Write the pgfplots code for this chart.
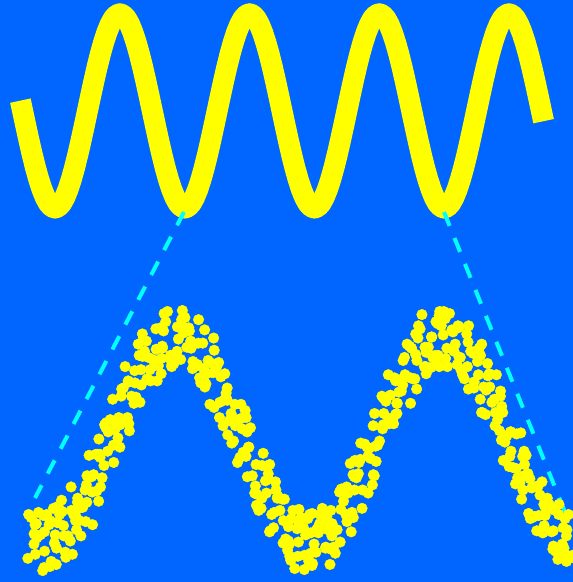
\documentclass[border=0pt]{standalone}
\usepackage{pgfplots}
\pgfplotsset{compat=1.18}
\definecolor{bgblue}{HTML}{0066FF}
\definecolor{yel}{HTML}{FFFF00}
\definecolor{cyn}{HTML}{00FFFF}
\begin{document}
\begin{tikzpicture}
\fill[bgblue] (0,0) rectangle (573bp,582bp);

% top: the whole signal, four periods
\begin{axis}[
    at={(0,352bp)}, anchor=south west,
    scale only axis, width=573bp, height=230bp,
    hide axis, clip=false, enlargelimits=false,
    xmin=-0.1743, xmax=4.2437, ymin=-1.2258, ymax=1.1417,
]
\addplot[yel, line width=21bp, line cap=rect, line join=round] coordinates {
(0.000,0) (0.025,-0.156) (0.050,-0.309) (0.075,-0.454) (0.100,-0.588) (0.125,-0.707) (0.150,-0.809) (0.175,-0.891) (0.200,-0.951) (0.225,-0.988)
(0.250,-1) (0.275,-0.988) (0.300,-0.951) (0.325,-0.891) (0.350,-0.809) (0.375,-0.707) (0.400,-0.588) (0.425,-0.454) (0.450,-0.309) (0.475,-0.156)
(0.500,0) (0.525,0.156) (0.550,0.309) (0.575,0.454) (0.600,0.588) (0.625,0.707) (0.650,0.809) (0.675,0.891) (0.700,0.951) (0.725,0.988)
(0.750,1) (0.775,0.988) (0.800,0.951) (0.825,0.891) (0.850,0.809) (0.875,0.707) (0.900,0.588) (0.925,0.454) (0.950,0.309) (0.975,0.156)
(1.000,0) (1.025,-0.156) (1.050,-0.309) (1.075,-0.454) (1.100,-0.588) (1.125,-0.707) (1.150,-0.809) (1.175,-0.891) (1.200,-0.951) (1.225,-0.988)
(1.250,-1) (1.275,-0.988) (1.300,-0.951) (1.325,-0.891) (1.350,-0.809) (1.375,-0.707) (1.400,-0.588) (1.425,-0.454) (1.450,-0.309) (1.475,-0.156)
(1.500,0) (1.525,0.156) (1.550,0.309) (1.575,0.454) (1.600,0.588) (1.625,0.707) (1.650,0.809) (1.675,0.891) (1.700,0.951) (1.725,0.988)
(1.750,1) (1.775,0.988) (1.800,0.951) (1.825,0.891) (1.850,0.809) (1.875,0.707) (1.900,0.588) (1.925,0.454) (1.950,0.309) (1.975,0.156)
(2.000,0) (2.025,-0.156) (2.050,-0.309) (2.075,-0.454) (2.100,-0.588) (2.125,-0.707) (2.150,-0.809) (2.175,-0.891) (2.200,-0.951) (2.225,-0.988)
(2.250,-1) (2.275,-0.988) (2.300,-0.951) (2.325,-0.891) (2.350,-0.809) (2.375,-0.707) (2.400,-0.588) (2.425,-0.454) (2.450,-0.309) (2.475,-0.156)
(2.500,0) (2.525,0.156) (2.550,0.309) (2.575,0.454) (2.600,0.588) (2.625,0.707) (2.650,0.809) (2.675,0.891) (2.700,0.951) (2.725,0.988)
(2.750,1) (2.775,0.988) (2.800,0.951) (2.825,0.891) (2.850,0.809) (2.875,0.707) (2.900,0.588) (2.925,0.454) (2.950,0.309) (2.975,0.156)
(3.000,0) (3.025,-0.156) (3.050,-0.309) (3.075,-0.454) (3.100,-0.588) (3.125,-0.707) (3.150,-0.809) (3.175,-0.891) (3.200,-0.951) (3.225,-0.988)
(3.250,-1) (3.275,-0.988) (3.300,-0.951) (3.325,-0.891) (3.350,-0.809) (3.375,-0.707) (3.400,-0.588) (3.425,-0.454) (3.450,-0.309) (3.475,-0.156)
(3.500,0) (3.525,0.156) (3.550,0.309) (3.575,0.454) (3.600,0.588) (3.625,0.707) (3.650,0.809) (3.675,0.891) (3.700,0.951) (3.725,0.988)
(3.750,1) (3.775,0.988) (3.800,0.951) (3.825,0.891) (3.850,0.809) (3.875,0.707) (3.900,0.588) (3.925,0.454) (3.950,0.309) (3.975,0.156)
(4.000,0)
};
\end{axis}

% connectors, in picture pixels
\begin{axis}[
    at={(0,0)}, anchor=south west,
    scale only axis, width=573bp, height=582bp,
    hide axis, enlargelimits=false,
    xmin=0, xmax=573, ymin=0, ymax=582, y dir=reverse,
]
\addplot[cyn, line width=4bp, dash pattern=on 15bp off 13bp] coordinates {(184,212) (35,498)};
\addplot[cyn, line width=4bp, dash pattern=on 15bp off 13bp] coordinates {(444,212) (569,522)};
\end{axis}

% bottom: zoom on t = 1.25 ... 3.25, noisy samples
\begin{axis}[
    at={(0,0)}, anchor=south west,
    scale only axis, width=573bp, height=297bp,
    hide axis, enlargelimits=false,
    xmin=1.0858, xmax=3.248, ymin=-1.392, ymax=1.520,
]
\addplot[yel, only marks, mark=*, mark size=5.3bp, mark options={solid, fill=yel, draw=none}] coordinates {
(1.218,-0.83) (1.191,-1.16) (1.214,-1.02) (1.194,-0.73) (1.231,-0.71) (1.219,-1.12) (1.252,-1.25) (1.225,-0.96)
(1.223,-0.82) (1.254,-1.09) (1.247,-1.28) (1.275,-0.79) (1.238,-0.93) (1.279,-1.19) (1.262,-0.73) (1.291,-1.01)
(1.298,-1.22) (1.271,-0.83) (1.294,-0.93) (1.274,-1.24) (1.311,-0.73) (1.299,-1.06) (1.332,-1.10) (1.305,-0.65)
(1.303,-0.81) (1.334,-1.15) (1.327,-0.94) (1.355,-0.69) (1.318,-0.59) (1.359,-1.12) (1.342,-0.94) (1.371,-0.79)
(1.378,-0.61) (1.351,-0.99) (1.374,-0.76) (1.354,-0.46) (1.391,-0.94) (1.379,-0.57) (1.412,-0.44) (1.385,-0.79)
(1.383,-0.67) (1.414,-0.35) (1.407,-0.49) (1.435,-0.83) (1.398,-0.66) (1.439,-0.34) (1.422,-0.15) (1.451,-0.50)
(1.458,-0.60) (1.431,-0.36) (1.454,-0.14) (1.434,-0.51) (1.471,-0.37) (1.459,0.01) (1.492,-0.11) (1.465,-0.46)
(1.463,-0.14) (1.494,0.08) (1.487,0.17) (1.515,-0.22) (1.478,-0.25) (1.519,0.10) (1.502,0.20) (1.531,0.02)
(1.538,-0.07) (1.511,0.40) (1.534,0.22) (1.514,-0.05) (1.551,0.51) (1.539,0.15) (1.572,0.16) (1.545,0.50)
(1.543,0.43) (1.574,0.09) (1.567,0.22) (1.595,0.56) (1.558,0.72) (1.599,0.42) (1.582,0.43) (1.611,0.83)
(1.618,0.69) (1.591,0.36) (1.614,0.37) (1.594,0.68) (1.631,0.87) (1.619,0.54) (1.652,0.69) (1.625,0.98)
(1.623,1.04) (1.654,0.58) (1.647,0.59) (1.675,0.89) (1.638,0.97) (1.679,0.58) (1.662,0.79) (1.691,1.10)
(1.698,0.92) (1.671,0.73) (1.694,0.65) (1.674,1.09) (1.711,1.16) (1.699,0.90) (1.732,0.83) (1.705,1.24)
(1.703,1.07) (1.734,0.74) (1.727,0.80) (1.755,1.11) (1.718,1.26) (1.759,0.99) (1.742,0.75) (1.771,1.18)
(1.778,1.05) (1.751,0.80) (1.774,1.27) (1.754,0.87) (1.791,0.91) (1.779,1.21) (1.812,0.70) (1.785,1.08)
(1.783,1.10) (1.814,0.77) (1.807,0.90) (1.835,1.18) (1.798,1.10) (1.839,0.61) (1.822,0.72) (1.851,0.95)
(1.858,1.08) (1.831,0.74) (1.854,0.59) (1.834,0.95) (1.871,0.78) (1.859,0.52) (1.892,1.00) (1.865,0.65)
(1.863,0.55) (1.894,0.88) (1.887,0.75) (1.915,0.37) (1.878,0.35) (1.919,0.62) (1.902,0.71) (1.931,0.39)
(1.938,0.42) (1.911,0.76) (1.934,0.65) (1.914,0.22) (1.951,0.19) (1.939,0.46) (1.972,0.35) (1.945,0.05)
(1.943,0.51) (1.974,0.14) (1.967,-0.01) (1.995,0.35) (1.958,0.26) (1.999,0.11) (1.982,-0.22) (2.011,0.29)
(2.018,0.08) (1.991,-0.17) (2.014,-0.16) (1.994,0.21) (2.031,0.12) (2.019,-0.36) (2.052,-0.24) (2.025,-0.07)
(2.023,-0.07) (2.054,-0.53) (2.047,-0.52) (2.075,-0.25) (2.038,-0.35) (2.079,-0.13) (2.062,-0.69) (2.091,-0.52)
(2.098,-0.33) (2.071,-0.67) (2.094,-0.26) (2.074,-0.57) (2.111,-0.73) (2.099,-0.38) (2.132,-0.57) (2.105,-0.89)
(2.103,-0.90) (2.134,-0.55) (2.127,-0.49) (2.155,-0.79) (2.118,-0.86) (2.159,-0.58) (2.142,-0.69) (2.171,-1.08)
(2.178,-1.02) (2.151,-0.58) (2.174,-0.85) (2.154,-1.01) (2.191,-0.69) (2.179,-1.14) (2.212,-1.00) (2.185,-0.77)
(2.183,-1.18) (2.214,-0.68) (2.207,-0.87) (2.235,-1.13) (2.198,-1.26) (2.239,-0.93) (2.222,-0.76) (2.251,-1.19)
(2.258,-1.11) (2.231,-0.86) (2.254,-0.73) (2.234,-1.27) (2.271,-1.02) (2.259,-0.91) (2.292,-0.82) (2.265,-1.21)
(2.263,-1.23) (2.294,-0.73) (2.287,-0.91) (2.315,-1.05) (2.278,-1.10) (2.319,-0.75) (2.302,-0.67) (2.331,-1.22)
(2.338,-0.94) (2.311,-0.79) (2.334,-0.69) (2.314,-1.06) (2.351,-1.11) (2.339,-0.82) (2.372,-0.68) (2.345,-1.05)
(2.343,-0.89) (2.374,-0.49) (2.367,-0.51) (2.395,-0.80) (2.358,-0.88) (2.399,-0.52) (2.382,-0.60) (2.411,-0.90)
(2.418,-0.34) (2.391,-0.73) (2.414,-0.71) (2.394,-0.46) (2.431,-0.37) (2.419,-0.76) (2.452,-0.67) (2.425,-0.20)
(2.423,-0.36) (2.454,-0.49) (2.447,-0.03) (2.475,-0.52) (2.438,-0.33) (2.479,-0.08) (2.462,-0.04) (2.491,-0.44)
(2.498,-0.35) (2.471,-0.07) (2.494,0.14) (2.474,-0.16) (2.511,-0.05) (2.499,0.26) (2.532,0.15) (2.505,-0.21)
(2.503,-0.06) (2.534,0.26) (2.527,0.43) (2.555,0.16) (2.518,-0.01) (2.559,0.44) (2.542,0.38) (2.571,0.16)
(2.578,0.25) (2.551,0.64) (2.574,0.61) (2.554,0.21) (2.591,0.47) (2.579,0.58) (2.612,0.81) (2.585,0.36)
(2.583,0.36) (2.614,0.64) (2.607,0.78) (2.635,0.36) (2.598,0.59) (2.639,0.90) (2.622,0.94) (2.651,0.60)
(2.658,0.50) (2.631,0.92) (2.654,0.84) (2.634,0.61) (2.671,1.09) (2.659,0.78) (2.692,0.72) (2.665,1.12)
(2.663,1.00) (2.694,0.65) (2.687,0.72) (2.715,1.01) (2.678,1.23) (2.719,0.81) (2.702,0.91) (2.731,1.16)
(2.738,1.14) (2.711,0.71) (2.734,0.75) (2.714,1.01) (2.751,1.12) (2.739,0.83) (2.772,0.90) (2.745,1.26)
(2.743,1.22) (2.774,0.72) (2.767,0.80) (2.795,1.06) (2.758,1.03) (2.799,0.87) (2.782,1.24) (2.811,0.74)
(2.818,0.81) (2.791,1.08) (2.814,1.12) (2.794,0.89) (2.831,0.64) (2.819,1.11) (2.852,0.96) (2.825,0.69)
(2.823,0.81) (2.854,1.12) (2.847,1.04) (2.875,0.57) (2.838,0.60) (2.879,0.87) (2.862,0.87) (2.891,0.64)
(2.898,0.40) (2.871,0.85) (2.894,0.90) (2.874,0.51) (2.911,0.52) (2.899,0.83) (2.932,0.65) (2.905,0.27)
(2.903,0.27) (2.934,0.52) (2.927,0.63) (2.955,0.27) (2.918,0.25) (2.959,0.64) (2.942,0.37) (2.971,0.09)
(2.978,0.00) (2.951,0.40) (2.974,0.43) (2.954,0.14) (2.991,-0.02) (2.979,0.33) (3.012,0.08) (2.985,-0.20)
(2.983,0.27) (3.014,-0.11) (3.007,-0.26) (3.035,0.06) (2.998,0.04) (3.039,-0.37) (3.022,-0.27) (3.051,0.07)
(3.058,-0.16) (3.031,-0.43) (3.054,-0.58) (3.034,-0.28) (3.071,-0.15) (3.059,-0.49) (3.092,-0.47) (3.065,-0.24)
(3.063,-0.35) (3.094,-0.76) (3.087,-0.77) (3.115,-0.46) (3.078,-0.33) (3.119,-0.74) (3.102,-0.75) (3.131,-0.41)
(3.138,-0.63) (3.111,-0.89) (3.134,-0.91) (3.114,-0.45) (3.151,-0.57) (3.139,-0.84) (3.172,-1.07) (3.145,-0.67)
(3.143,-0.74) (3.174,-1.04) (3.167,-0.90) (3.195,-0.63) (3.158,-0.63) (3.199,-1.15) (3.182,-1.09) (3.211,-0.86)
(3.218,-0.77) (3.191,-1.17) (3.214,-1.06) (3.194,-0.73) (3.231,-0.73) (3.219,-1.12) (3.252,-1.26) (3.225,-0.88)
(3.223,-0.94) (3.254,-1.19) (3.247,-1.13) (3.275,-0.80)
};
\addplot[yel, only marks, mark=*, mark size=5.3bp, mark options={solid, fill=yel, draw=none}] coordinates {
(1.2145,-0.92) (1.2035,-0.76) (1.2495,-0.74) (1.2535,-0.90) (1.3035,-0.81) (1.2875,-0.67) (1.3255,-0.84) (1.3205,-0.70)
(1.3745,-0.88) (1.3635,-0.73) (1.4095,-0.80) (1.4135,-0.61) (1.4635,-0.17) (1.4475,-0.14) (1.4855,0.12) (1.4805,0.15)
(1.5345,0.20) (1.5235,0.13) (1.5695,0.58) (1.5735,0.57) (1.6235,0.82) (1.6075,0.94) (1.6455,0.81) (1.6405,0.60)
(1.6945,0.80) (1.6835,0.73) (1.7295,0.83) (1.7335,0.72) (1.7835,1.20) (1.7675,0.79) (1.8055,0.97) (1.8005,1.07)
(1.8545,0.70) (1.8435,0.56) (1.8895,0.66) (1.8935,0.32) (1.9435,0.39) (1.9275,0.14) (1.9655,0.21) (1.9605,-0.03)
(2.0145,0.22) (2.0035,-0.12) (2.0495,-0.45) (2.0535,-0.64) (2.1035,-0.24) (2.0875,-0.40) (2.1255,-0.41) (2.1205,-0.71)
(2.1745,-0.99) (2.1635,-0.97) (2.2095,-1.14) (2.2135,-0.82) (2.2635,-0.72) (2.2475,-0.77) (2.2855,-0.86) (2.2805,-0.88)
(2.3345,-1.07) (2.3235,-0.88) (2.3695,-1.00) (2.3735,-0.48) (2.4235,-0.49) (2.4075,-0.23) (2.4455,-0.19) (2.4405,-0.22)
(2.4945,-0.34) (2.4835,-0.18) (2.5295,0.11) (2.5335,0.41) (2.5835,0.26) (2.5675,0.20) (2.6055,0.54) (2.6005,0.48)
(2.6545,1.04) (2.6435,0.60) (2.6895,0.91) (2.6935,0.86) (2.7435,0.72) (2.7275,0.83) (2.7655,1.19) (2.7605,1.26)
(2.8145,1.10) (2.8035,0.94) (2.8495,0.72) (2.8535,0.50) (2.9035,0.94) (2.8875,0.77) (2.9255,0.75) (2.9205,0.49)
(2.9745,0.48) (2.9635,0.20) (3.0095,-0.16) (3.0135,0.08) (3.0635,-0.11) (3.0475,-0.42) (3.0855,-0.38) (3.0805,-0.72)
(3.1345,-0.88) (3.1235,-0.54) (3.1695,-0.68) (3.1735,-0.89) (3.2235,-1.19) (3.2075,-1.02) (3.2455,-1.15)
};
\end{axis}
\pgfresetboundingbox
\path[use as bounding box] (0,0) rectangle (573bp,582bp);
\end{tikzpicture}
\end{document}
